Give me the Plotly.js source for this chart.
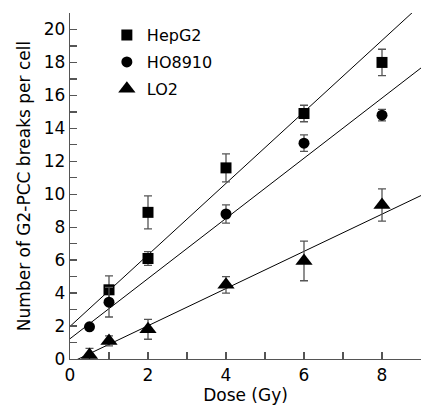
<!DOCTYPE html>
<html>
<head>
<meta charset="utf-8">
<script src="https://cdn.plot.ly/plotly-3.0.1.min.js"></script>
<style>html,body{margin:0;padding:0;background:#fff;}#chart{width:426px;height:409px;}</style>
</head>
<body>
<div id="chart"></div>
<script>
// Series names
const seriesNames = ["HepG2", "HO8910", "LO2"];

// HepG2 (squares)
const hepX = [1, 2, 2, 4, 6, 8];
const hepY = [4.2, 8.9, 6.1, 11.6, 14.9, 18.0];
const hepErr = [0.85, 1.0, 0.42, 0.85, 0.5, 0.8];

// HO8910 (circles)
const hoX = [0.5, 1, 4, 6, 8];
const hoY = [1.95, 3.45, 8.8, 13.1, 14.8];
const hoErr = [0, 0.9, 0.55, 0.5, 0.35];

// LO2 (triangles)
const loX = [0.5, 1, 2, 4, 6, 8];
const loY = [0.25, 1.1, 1.8, 4.5, 5.95, 9.35];
const loErr = [0.4, 0.3, 0.6, 0.5, 1.2, 0.98];

// Fitted regression lines: [intercept, slope]
const hepFit = [1.98, 2.17];
const hoFit = [1.23, 1.826];
const loFit = [-0.24, 1.129];
const fitRange = [0, 9];

// Axis ticks
const xTickVals = [0, 1, 2, 3, 4, 5, 6, 7, 8, 9];
const xTickText = ["0", "", "2", "", "4", "", "6", "", "8", ""];
const yTickVals = [0,1,2,3,4,5,6,7,8,9,10,11,12,13,14,15,16,17,18,19,20,21];
const yTickText = ["0","","2","","4","","6","","8","","10","","12","","14","","16","","18","","20",""];

const FONT = "DejaVu Sans, Verdana, sans-serif";
const AX = "#555";

function fitLine(fit) {
  return {
    x: fitRange.slice(),
    y: fitRange.map(v => fit[0] + fit[1] * v),
    mode: "lines",
    line: {color: "#000", width: 1},
    showlegend: false,
    hoverinfo: "skip"
  };
}

function pts(name, x, y, err, symbol, size, group) {
  return {
    name: name, x: x, y: y, mode: "markers", type: "scatter",
    legendgroup: group,
    cliponaxis: false,
    marker: {symbol: symbol, size: size, color: "#000"},
    error_y: {type: "data", array: err, visible: true, color: AX, thickness: 1.3, width: 4}
  };
}

const data = [
  fitLine(hepFit), fitLine(hoFit), fitLine(loFit),
  pts(seriesNames[0], hepX, hepY, hepErr, "square", 11, "a"),
  pts(seriesNames[1], hoX, hoY, hoErr, "circle", 11, "b"),
  pts(seriesNames[2], loX, loY, loErr, "triangle-up", 15, "c")
];

const layout = {
  width: 426, height: 409,
  margin: {l: 70, r: 5, t: 13, b: 50},
  paper_bgcolor: "#fff", plot_bgcolor: "#fff",
  font: {family: FONT, size: 17, color: "#000"},
  showlegend: true,
  legend: {
    x: 0.105, y: 0.985, xanchor: "left", yanchor: "top",
    bgcolor: "rgba(0,0,0,0)", borderwidth: 0,
    font: {family: FONT, size: 16, color: "#000"},
    tracegroupgap: 3, itemsizing: "trace"
  },
  xaxis: {
    range: [0, 9], tickvals: xTickVals, ticktext: xTickText,
    ticks: "inside", ticklen: 7, tickcolor: AX, tickwidth: 1.3,
    showline: true, linecolor: AX, linewidth: 1.3,
    showgrid: false, zeroline: false,
    tickfont: {family: FONT, size: 17},
    title: {text: "Dose (Gy)", font: {family: FONT, size: 17}, standoff: 2}
  },
  yaxis: {
    range: [0, 21], tickvals: yTickVals, ticktext: yTickText,
    ticks: "inside", ticklen: 7, tickcolor: AX, tickwidth: 1.3,
    showline: true, linecolor: AX, linewidth: 1.3,
    showgrid: false, zeroline: false,
    tickfont: {family: FONT, size: 17},
    title: {text: "Number of G2-PCC breaks per cell", font: {family: FONT, size: 17}, standoff: 8}
  }
};

Plotly.newPlot("chart", data, layout, {displayModeBar: false, staticPlot: true});
</script>
</body>
</html>
